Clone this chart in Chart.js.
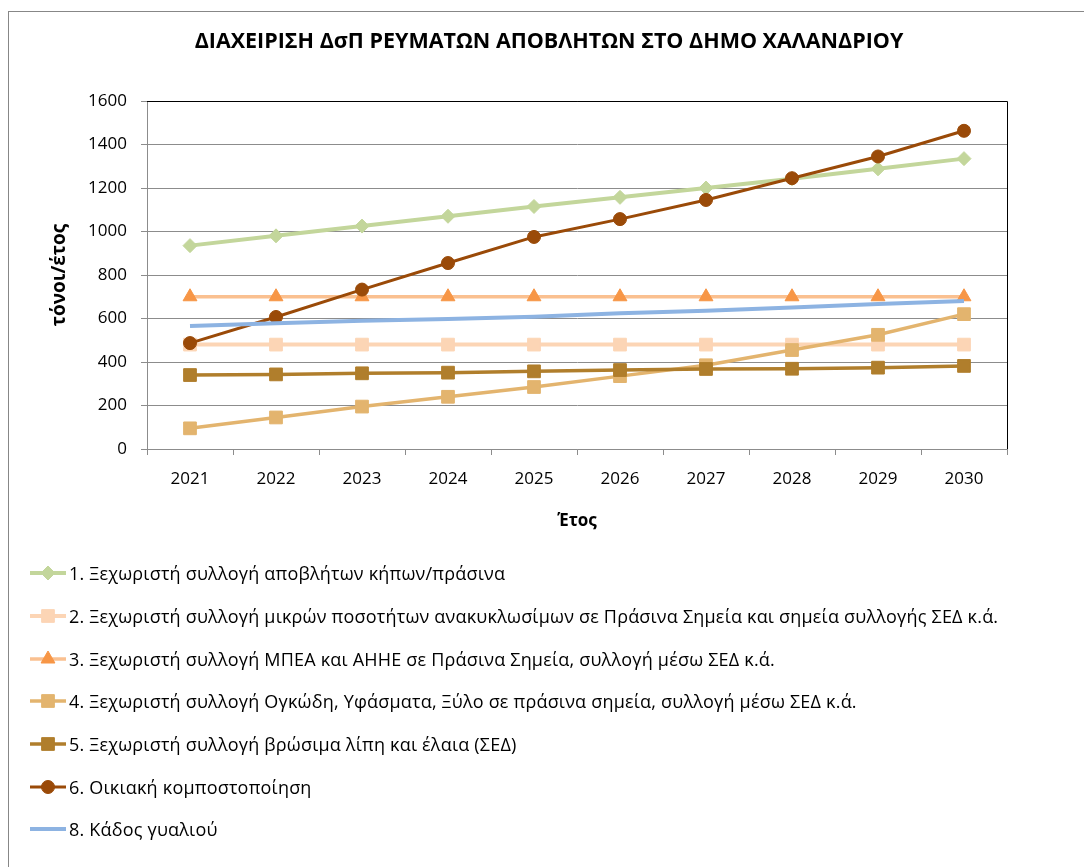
<!DOCTYPE html>
<html>
<head>
<meta charset="utf-8">
<script src="https://cdn.jsdelivr.net/npm/chart.js@4.4.0/dist/chart.umd.min.js"></script>
<style>
body { margin: 0; background: #fff; overflow: hidden; }
#frame { position: absolute; left: 8px; top: 11px; width: 1100px; height: 900px; border: 1px solid #878787; }
#chart { position: absolute; left: 0; top: 0; }
#legend { position: absolute; left: 28px; top: 552px; font-family: 'Open Sans'; font-size: 18px; letter-spacing: 0.2px; color: #000; }
.item { height: 42.7px; display: flex; align-items: center; white-space: nowrap; }
.item canvas { margin-right: 1px; }
</style>
</head>
<body>
<div id="frame"></div>
<canvas id="chart" width="1084" height="550"></canvas>
<div id="legend"></div>
<script>
'use strict';
//years on the x axis
var years = ['2021', '2022', '2023', '2024', '2025', '2026', '2027', '2028', '2029', '2030'];
//tonnes per year, one array per stream
var gardenWaste = [935, 980, 1025, 1070, 1115, 1157, 1200, 1243, 1288, 1335];
var smallRecyclables = [480, 480, 480, 480, 480, 480, 480, 480, 480, 480];
var weeeBatteries = [700, 700, 700, 700, 700, 700, 700, 700, 700, 700];
var bulkyTextileWood = [95, 145, 195, 240, 285, 335, 385, 455, 525, 620];
var cookingOil = [340, 343, 348, 351, 357, 363, 368, 369, 374, 382];
var homeCompost = [487, 607, 733, 855, 975, 1057, 1145, 1245, 1345, 1463];
var glassBins = [565, 578, 590, 598, 608, 624, 636, 651, 667, 680];

var seriesNames = [
	'1. Ξεχωριστή συλλογή αποβλήτων κήπων/πράσινα',
	'2. Ξεχωριστή συλλογή μικρών ποσοτήτων ανακυκλωσίμων σε Πράσινα Σημεία και σημεία συλλογής ΣΕΔ κ.ά.',
	'3. Ξεχωριστή συλλογή ΜΠΕΑ και ΑΗΗΕ σε Πράσινα Σημεία, συλλογή μέσω ΣΕΔ κ.ά.',
	'4. Ξεχωριστή συλλογή Ογκώδη, Υφάσματα, Ξύλο σε πράσινα σημεία, συλλογή μέσω ΣΕΔ κ.ά.',
	'5. Ξεχωριστή συλλογή βρώσιμα λίπη και έλαια (ΣΕΔ)',
	'6. Οικιακή κομποστοποίηση',
	'8. Κάδος γυαλιού'
];
var seriesData = [gardenWaste, smallRecyclables, weeeBatteries, bulkyTextileWood, cookingOil, homeCompost, glassBins];

//styling for each series
var lineColors = ['#C3D69B', '#FCD5B5', '#FAC090', '#E3B46E', '#B07E2C', '#9A4A08', '#8DB3E2'];
var markerColors = ['#C3D69B', '#FCD5B5', '#F79646', '#E3B46E', '#B07E2C', '#9A4A08', '#8DB3E2'];
var markerStyles = ['rectRot', 'rect', 'triangle', 'rect', 'rect', 'circle', 'circle'];
var markerSizes = [7, 9, 8, 9, 9, 6.5, 0];
var lineWidths = [4, 4, 3.5, 3.5, 3.5, 3, 4];

var fontFamily = "'Open Sans', sans-serif";

var datasets = seriesNames.map(function(name, i) {
	return {
		label: name,
		data: seriesData[i],
		borderColor: lineColors[i],
		borderWidth: lineWidths[i],
		backgroundColor: markerColors[i],
		pointStyle: markerStyles[i],
		pointRadius: markerSizes[i],
		pointBackgroundColor: markerColors[i],
		pointBorderColor: markerColors[i],
		pointBorderWidth: 1,
		tension: 0,
		fill: false,
		order: seriesNames.length - i
	};
});

//black top and right edge of the plot area
var plotEdge = {
	id: 'plotEdge',
	beforeDatasetsDraw: function(chart) {
		var a = chart.chartArea;
		var c = chart.ctx;
		c.save();
		c.strokeStyle = '#000';
		c.lineWidth = 1;
		c.beginPath();
		c.moveTo(a.left, a.top + 0.5);
		c.lineTo(a.right + 0.5, a.top + 0.5);
		c.lineTo(a.right + 0.5, a.bottom);
		c.stroke();
		c.restore();
	}
};

var ctx = document.getElementById('chart').getContext('2d');
var chart = new Chart(ctx, {
	type: 'line',
	data: {
		labels: years,
		datasets: datasets
	},
	options: {
		responsive: false,
		animation: false,
		layout: { padding: { left: 14, right: 0, top: 0, bottom: 0 } },
		plugins: {
			legend: { display: false },
			tooltip: { enabled: false },
			title: {
				display: true,
				text: 'ΔΙΑΧΕΙΡΙΣΗ ΔσΠ ΡΕΥΜΑΤΩΝ ΑΠΟΒΛΗΤΩΝ ΣΤΟ ΔΗΜΟ ΧΑΛΑΝΔΡΙΟΥ',
				color: '#000',
				font: { family: fontFamily, size: 21.5, weight: 'bold' },
				padding: { top: 29, bottom: 46.2 }
			}
		},
		scales: {
			x: {
				offset: true,
				grid: { offset: true, drawOnChartArea: false, tickLength: 6, color: '#8c8c8c' },
				border: { color: '#8c8c8c' },
				ticks: { padding: 14, color: '#000', font: { family: fontFamily, size: 17 } },
				title: {
					display: true,
					text: 'Έτος',
					color: '#000',
					font: { family: fontFamily, size: 17, weight: 'bold' },
					padding: { top: 0, bottom: 19 }
				},
				afterFit: function(s) { s.height = 101; }
			},
			y: {
				min: 0,
				max: 1600,
				ticks: {
					stepSize: 200,
					padding: 14,
					color: '#000',
					font: { family: fontFamily, size: 17 },
					callback: function(v) { return String(v); }
				},
				grid: {
					color: function(c) { return c.tick && c.tick.value === 1600 ? '#000' : '#8c8c8c'; },
					tickColor: '#8c8c8c',
					tickLength: 6
				},
				border: { color: '#8c8c8c' },
				title: {
					display: true,
					text: 'τόνοι/έτος',
					color: '#000',
					font: { family: fontFamily, size: 19, weight: 'bold' },
					padding: { top: 34.6, bottom: 0 }
				},
				afterFit: function(s) { s.width = 133; }
			},
			spacer: {
				type: 'linear',
				position: 'right',
				grid: { display: false },
				ticks: { display: false },
				border: { display: false },
				afterFit: function(s) { s.width = 77; }
			}
		}
	},
	plugins: [plotEdge]
});

//legend, one series per row, drawn as html
var legendBox = document.getElementById('legend');
seriesNames.forEach(function(name, i) {
	var row = document.createElement('div');
	row.className = 'item';
	var icon = document.createElement('canvas');
	icon.width = 40;
	icon.height = 20;
	var g = icon.getContext('2d');
	g.strokeStyle = lineColors[i];
	g.lineWidth = lineWidths[i];
	g.beginPath();
	g.moveTo(2, 10);
	g.lineTo(38, 10);
	g.stroke();
	if (markerSizes[i] > 0) {
		g.fillStyle = markerColors[i];
		g.strokeStyle = markerColors[i];
		g.lineWidth = 1;
		Chart.helpers.drawPoint(g, { pointStyle: markerStyles[i], radius: markerSizes[i], rotation: 0, borderWidth: 1 }, 20, 10);
	}
	var label = document.createElement('span');
	label.textContent = name;
	row.appendChild(icon);
	row.appendChild(label);
	legendBox.appendChild(row);
});
</script>
</body>
</html>
